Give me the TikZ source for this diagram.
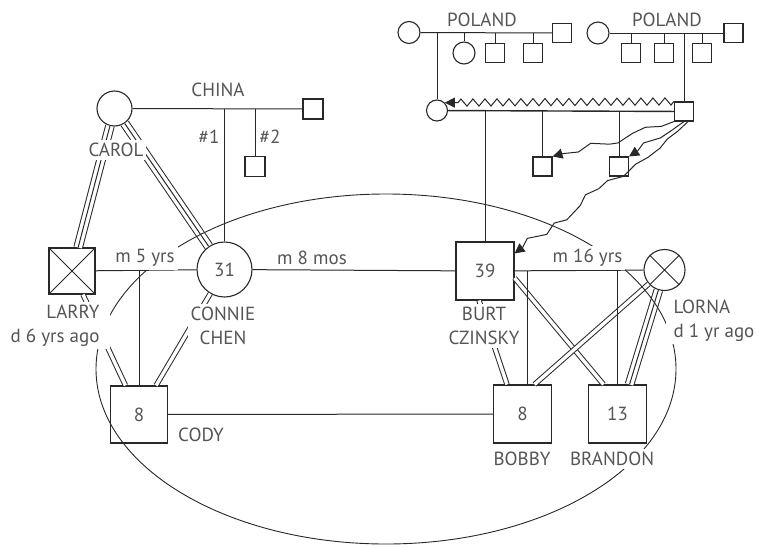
\documentclass[tikz,border=0pt]{standalone}
\usepackage{fontspec}
\setmainfont{PT Sans}
\usepackage{tikz}
\usetikzlibrary{arrows.meta, positioning, decorations.pathmorphing}
\definecolor{txtgray}{RGB}{85,85,85}
\definecolor{linegray}{RGB}{40,40,40}
\tikzset{
  person/.style={draw, line width=0.55pt, inner sep=0pt, text=txtgray,
    font=\fontsize{9.5}{12}\selectfont},
  mbox/.style={person, rectangle, minimum size=#1},
  mbox/.default=9.5pt,
  fcirc/.style={person, circle, minimum size=#1},
  fcirc/.default=11pt,
  tag/.style={fill=white, inner sep=1.5pt, text=txtgray, align=center,
    font=\fontsize{9.5}{12}\selectfont},
  twoline/.style={line width=0.5pt, double distance=1.7pt},
  threeline/.style={line width=0.5pt, preaction={draw, line width=4.8pt},
    preaction={draw, white, line width=3.8pt}},
  zig/.style={line width=0.5pt, decorate,
    decoration={zigzag, segment length=6pt, amplitude=1.8pt, post length=5pt},
    -{Triangle[length=5pt, width=5pt]}},
  stairs/.style={line width=0.5pt, decorate,
    decoration={random steps, segment length=7pt, amplitude=2.6pt, post length=5pt},
    -{Triangle[length=5pt, width=5pt]}}
}
\begin{document}
\begin{tikzpicture}[x=0.5pt, y=-0.5pt, line width=0.5pt, draw=linegray]
    \useasboundingbox (0,0) rectangle (759,546);
    \pgfmathsetseed{7}

    \node[fcirc] (pl1f) at (409,32.5) {};
    \node[mbox] (pl1m) at (562,33) {};
    \node[fcirc] (pl1c1) at (464,53) {};
    \node[mbox] (pl1c2) at (495,53) {};
    \node[mbox] (pl1c3) at (533,53) {};
    \node[fcirc=10.5pt] (bmom) at (437,110.5) {};

    \node[fcirc] (pl2f) at (598,33) {};
    \node[mbox] (pl2m) at (733.5,33) {};
    \node[mbox] (pl2c1) at (631,53) {};
    \node[mbox] (pl2c2) at (664,53) {};
    \node[mbox] (pl2c3) at (702,53) {};
    \node[mbox] (bdad) at (684,111.5) {};
    \node[mbox] (bk1) at (542.5,166.5) {};
    \node[mbox] (bk2) at (619,166.5) {};

    \node[fcirc=17.5pt] (carol) at (114.5,108.5) {};
    \node[mbox=10pt] (chinam) at (313,109) {};
    \node[mbox=10pt] (ck2) at (255,166.5) {};

    \node[mbox=23pt] (larry) at (72,271) {};
    \node[fcirc=27.5pt] (connie) at (224.5,269.5) {31};
    \node[mbox=29pt] (burt) at (485,271) {39};
    \node[fcirc=20.5pt] (lorna) at (664.5,270) {};
    \node[mbox=28.5pt] (cody) at (139,414.5) {8};
    \node[mbox=29pt] (bobby) at (522.5,414) {8};
    \node[mbox=29pt] (brandon) at (617.5,414) {13};

    \draw (larry.north west) -- (larry.south east) (larry.north east) -- (larry.south west);
    \draw (lorna.45) -- (lorna.225) (lorna.135) -- (lorna.315);

    \draw[threeline] (carol) -- (larry);
    \draw[threeline] (carol) -- (connie);
    \draw[twoline] (larry) -- (cody);
    \draw[twoline] (connie) -- (cody);
    \draw[twoline] ([xshift=-3pt]burt.south) -- ([xshift=-7.75pt]bobby.north);
    \draw[twoline] ([yshift=-3.5pt]burt.east) -- ([xshift=-7pt]brandon.north);
    \draw[twoline] (lorna) -- ([xshift=6pt]bobby.north);
    \draw[threeline] (lorna) -- ([xshift=6pt]brandon.north);

    \draw (pl1f) -- (pl1m);
    \foreach \kid in {bmom, pl1c1, pl1c2, pl1c3}
      \draw (\kid.north) -- (\kid.north |- pl1f.east);
    \draw (pl2f) -- (pl2m);
    \foreach \kid in {bdad, pl2c1, pl2c2, pl2c3}
      \draw (\kid.north) -- (\kid.north |- pl2f.east);
    \draw[line width=0.7pt] (bmom) -- (bdad);
    \foreach \kid in {burt, bk1, bk2}
      \draw (\kid.north) -- (\kid.north |- bmom.east);

    \draw (carol) -- (chinam);
    \draw (connie.north) -- (connie.north |- carol.east);
    \draw (ck2.north) -- (ck2.north |- carol.east);

    \draw (larry) -- (connie);
    \draw (cody.north) -- (cody.north |- larry.east);
    \draw (connie) -- (burt);
    \draw (burt) -- (lorna);
    \draw ([xshift=2.25pt]bobby.north) -- ([xshift=2.25pt]bobby.north |- burt.east);
    \draw (brandon.north) -- (brandon.north |- burt.east);
    \draw (cody) -- (bobby);

    \draw[line width=0.45pt] (386,369) ellipse [x radius=145pt, y radius=87.5pt];

    \draw[zig] (bdad.north west) -- (bmom.45);
    \draw[stairs] (bdad.south west) -- (bk1.north east);
    \draw[stairs] (bdad.south) -- (bk2.north east);
    \draw[stairs] ([xshift=2pt]bdad.south) -- ([yshift=-6pt]burt.north east);

    \node[tag] (pl1lbl) at (482,20) {POLAND};
    \node[tag] (pl2lbl) at (667,20) {POLAND};
    \node[tag] (chinalbl) at (218,90) {CHINA};
    \node[tag] (onelbl) at (209,137) {\#1};
    \node[tag] (twolbl) at (270,137) {\#2};
    \node[tag] (carollbl) at (116,150) {CAROL};
    \node[tag, align=right, anchor=north east, inner xsep=5pt] (larrylbl) at (110,301) {LARRY\\d 6 yrs ago};
    \node[tag] (connielbl) at (223,326) {CONNIE\\CHEN};
    \node[tag] (burtlbl) at (484,326) {BURT\\CZINSKY};
    \node[tag, align=left, anchor=north west, inner xsep=4pt] (lornalbl) at (665,296) {LORNA\\d 1 yr ago};
    \node[tag] (m5lbl) at (145,258) {m 5 yrs};
    \node[tag] (m8lbl) at (312,258) {m 8 mos};
    \node[tag] (m16lbl) at (587.5,258) {m 16 yrs};
    \node[tag] (codylbl) at (201,435) {CODY};
    \node[tag] (bobbylbl) at (522,459) {BOBBY};
    \node[tag] (brandonlbl) at (612,459) {BRANDON};
\end{tikzpicture}
\end{document}
